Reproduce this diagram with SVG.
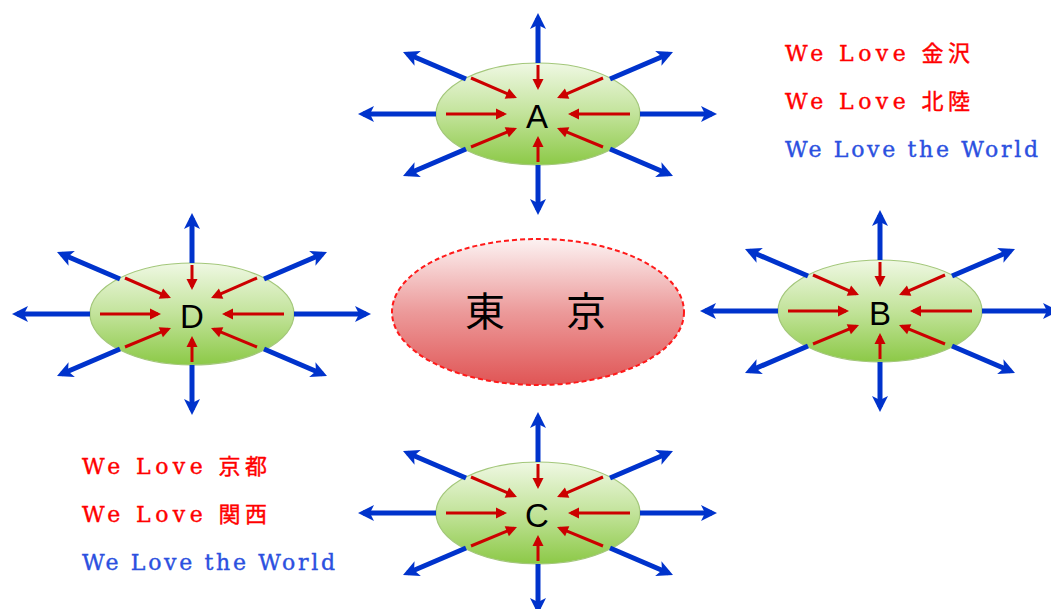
<svg xmlns="http://www.w3.org/2000/svg" xmlns:xlink="http://www.w3.org/1999/xlink" width="1051" height="609" viewBox="0 0 1051 609">
<defs>
  <linearGradient id="gGreen" x1="0" y1="0" x2="0" y2="1">
    <stop offset="0" stop-color="#EFF8E3"/>
    <stop offset="0.5" stop-color="#C2E39A"/>
    <stop offset="1" stop-color="#8CC947"/>
  </linearGradient>
  <linearGradient id="gRed" x1="0" y1="0" x2="0" y2="1">
    <stop offset="0" stop-color="#FCF2F2"/>
    <stop offset="0.5" stop-color="#EC9A9A"/>
    <stop offset="1" stop-color="#E05555"/>
  </linearGradient>
  <marker id="ab" markerUnits="userSpaceOnUse" markerWidth="18" markerHeight="18" viewBox="0 -9 17 18" refX="11" refY="0" orient="auto">
    <path d="M0,-8 L16,0 L0,8 L4,0 Z" fill="#0033CC"/>
  </marker>
  <marker id="ar" markerUnits="userSpaceOnUse" markerWidth="13" markerHeight="13" viewBox="0 -6.5 12 13" refX="8" refY="0" orient="auto">
    <path d="M0,-5.5 L11,0 L0,5.5 Z" fill="#CC0000"/>
  </marker>
</defs>
<style>
  .city { fill: url(#gGreen); stroke: #A3C77A; stroke-width: 1.2; }
  .tokyo { fill: url(#gRed); stroke: #FF1A1A; stroke-width: 2; stroke-dasharray: 5 3; }
  .lbl { font-family: "Liberation Sans", "DejaVu Sans", sans-serif; font-size: 33px; fill: #000; text-anchor: middle; }
  .kj { font-family: "Noto Sans CJK JP", sans-serif; font-size: 40px; fill: #000; }
  .out { fill: none; stroke: #0033CC; stroke-width: 5; marker-end: url(#ab); }
  .in { fill: none; stroke: #CC0000; stroke-width: 3; marker-end: url(#ar); }
  .msg { font-family: "DejaVu Serif", "Noto Sans CJK JP", serif; font-size: 22px; stroke-width: 0.4; }
  .r { fill: #FF0000; stroke: #FF0000; }
  .b { fill: #2B50E0; stroke: #2B50E0; }
</style>

<g id="node-tokyo">
  <ellipse class="tokyo" cx="538" cy="312" rx="146" ry="73"/>
  <text class="kj" x="465" y="326">東</text>
  <text class="kj" x="566" y="326">京</text>
</g>
<g id="node-A">
  <ellipse class="city" cx="538" cy="114" rx="102" ry="51"/>
  <text class="lbl" x="537" y="128">A</text>
</g>
<g id="node-B">
  <ellipse class="city" cx="880" cy="311" rx="102" ry="51"/>
  <text class="lbl" x="880" y="325">B</text>
</g>
<g id="node-C">
  <ellipse class="city" cx="538" cy="513" rx="102" ry="51"/>
  <text class="lbl" x="537" y="527">C</text>
</g>
<g id="node-D">
  <ellipse class="city" cx="192" cy="314" rx="102" ry="51"/>
  <text class="lbl" x="192" y="328">D</text>
</g>

<g id="connectors">
  <g id="burst-A" transform="translate(538,114)">
    <path class="out" d="M0,-51 L0,-96"/>
    <path class="out" d="M0,51 L0,96"/>
    <path class="out" d="M-102,0 L-175,0"/>
    <path class="out" d="M102,0 L174,0"/>
    <path class="out" d="M-72,-35 L-130.4,-60"/>
    <path class="out" d="M72,-35 L130.4,-60"/>
    <path class="out" d="M-72,35 L-130.4,60"/>
    <path class="out" d="M72,35 L130.4,60"/>
    <path class="in" d="M0,-49 L0,-27"/>
    <path class="in" d="M0,48 L0,25"/>
    <path class="in" d="M-92,0 L-34,0"/>
    <path class="in" d="M92,0 L33,0"/>
    <path class="in" d="M-67,-36 L-23.8,-17.2"/>
    <path class="in" d="M65,-36 L21.8,-17.2"/>
    <path class="in" d="M-67,33 L-23.8,15.2"/>
    <path class="in" d="M65,33 L21.8,15.2"/>
  </g>
  <g id="burst-B" transform="translate(880,311)">
    <path class="out" d="M0,-51 L0,-96"/>
    <path class="out" d="M0,51 L0,96"/>
    <path class="out" d="M-102,0 L-175,0"/>
    <path class="out" d="M102,0 L174,0"/>
    <path class="out" d="M-72,-35 L-130.4,-60"/>
    <path class="out" d="M72,-35 L130.4,-60"/>
    <path class="out" d="M-72,35 L-130.4,60"/>
    <path class="out" d="M72,35 L130.4,60"/>
    <path class="in" d="M0,-49 L0,-27"/>
    <path class="in" d="M0,48 L0,25"/>
    <path class="in" d="M-92,0 L-34,0"/>
    <path class="in" d="M92,0 L33,0"/>
    <path class="in" d="M-67,-36 L-23.8,-17.2"/>
    <path class="in" d="M65,-36 L21.8,-17.2"/>
    <path class="in" d="M-67,33 L-23.8,15.2"/>
    <path class="in" d="M65,33 L21.8,15.2"/>
  </g>
  <g id="burst-C" transform="translate(538,513)">
    <path class="out" d="M0,-51 L0,-96"/>
    <path class="out" d="M0,51 L0,96"/>
    <path class="out" d="M-102,0 L-175,0"/>
    <path class="out" d="M102,0 L174,0"/>
    <path class="out" d="M-72,-35 L-130.4,-60"/>
    <path class="out" d="M72,-35 L130.4,-60"/>
    <path class="out" d="M-72,35 L-130.4,60"/>
    <path class="out" d="M72,35 L130.4,60"/>
    <path class="in" d="M0,-49 L0,-27"/>
    <path class="in" d="M0,48 L0,25"/>
    <path class="in" d="M-92,0 L-34,0"/>
    <path class="in" d="M92,0 L33,0"/>
    <path class="in" d="M-67,-36 L-23.8,-17.2"/>
    <path class="in" d="M65,-36 L21.8,-17.2"/>
    <path class="in" d="M-67,33 L-23.8,15.2"/>
    <path class="in" d="M65,33 L21.8,15.2"/>
  </g>
  <g id="burst-D" transform="translate(192,314)">
    <path class="out" d="M0,-51 L0,-96"/>
    <path class="out" d="M0,51 L0,96"/>
    <path class="out" d="M-102,0 L-175,0"/>
    <path class="out" d="M102,0 L174,0"/>
    <path class="out" d="M-72,-35 L-130.4,-60"/>
    <path class="out" d="M72,-35 L130.4,-60"/>
    <path class="out" d="M-72,35 L-130.4,60"/>
    <path class="out" d="M72,35 L130.4,60"/>
    <path class="in" d="M0,-49 L0,-27"/>
    <path class="in" d="M0,48 L0,25"/>
    <path class="in" d="M-92,0 L-34,0"/>
    <path class="in" d="M92,0 L33,0"/>
    <path class="in" d="M-67,-36 L-23.8,-17.2"/>
    <path class="in" d="M65,-36 L21.8,-17.2"/>
    <path class="in" d="M-67,33 L-23.8,15.2"/>
    <path class="in" d="M65,33 L21.8,15.2"/>
  </g>
</g>

<g id="text-right">
  <text class="msg r" x="785" y="61" textLength="185" lengthAdjust="spacing">We Love 金沢</text>
  <text class="msg r" x="785" y="109" textLength="185" lengthAdjust="spacing">We Love 北陸</text>
  <text class="msg b" x="785" y="157" textLength="253" lengthAdjust="spacing">We Love the World</text>
</g>
<g id="text-left">
  <text class="msg r" x="82" y="474" textLength="185" lengthAdjust="spacing">We Love 京都</text>
  <text class="msg r" x="82" y="522" textLength="185" lengthAdjust="spacing">We Love 関西</text>
  <text class="msg b" x="82" y="570" textLength="253" lengthAdjust="spacing">We Love the World</text>
</g>
</svg>
